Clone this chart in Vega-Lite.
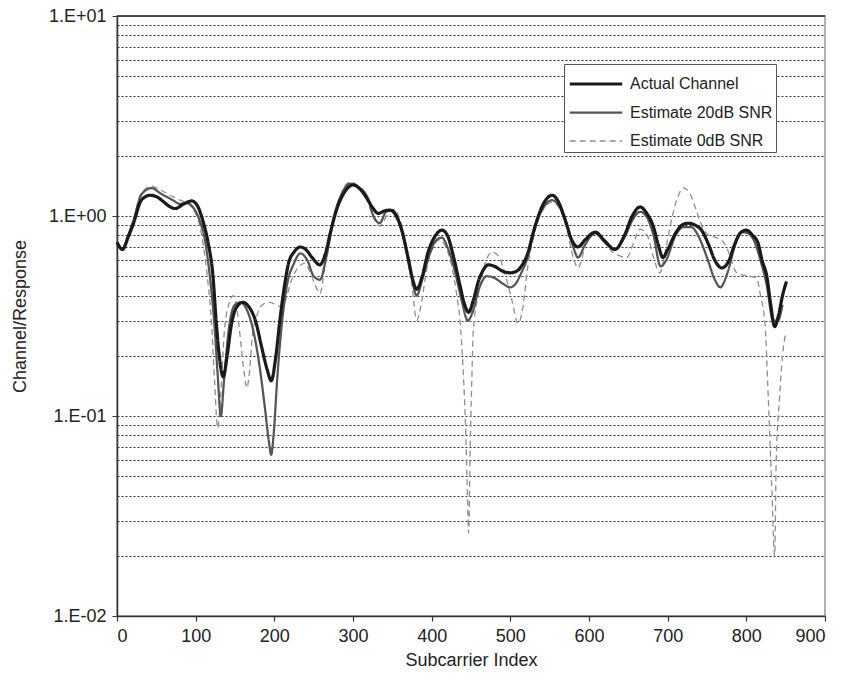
{
  "$schema": "https://vega.github.io/schema/vega-lite/v6.json",
  "autosize": {"type": "none"},
  "padding": {"left": 117, "top": 16, "right": 17, "bottom": 66},
  "width": 708,
  "height": 600,
  "background": "white",
  "config": {
    "view": {"stroke": "#999", "strokeWidth": 1.5},
    "font": "Liberation Sans"
  },
  "datasets": {
    "actual": [
      [0,0.74],[7,0.68],[14,0.78],[21,0.92],[31,1.2],[42,1.27],[50,1.25],[59,1.18],[66,1.12],[74,1.09],[85,1.15],[95,1.19],[103,1.11],[110,0.92],[116,0.73],[122,0.5],[126,0.3],[130,0.2],[135,0.157],[140,0.2],[145,0.28],[152,0.35],[160,0.37],[168,0.35],[176,0.3],[184,0.22],[191,0.17],[196,0.15],[202,0.2],[207,0.3],[213,0.45],[218,0.58],[225,0.66],[233,0.7],[240,0.68],[248,0.62],[258,0.57],[265,0.65],[272,0.85],[280,1.1],[290,1.33],[300,1.43],[310,1.35],[318,1.22],[325,1.1],[332,1.03],[340,1.06],[347,1.07],[355,1.0],[362,0.85],[370,0.62],[376,0.48],[381,0.43],[388,0.5],[395,0.65],[405,0.8],[413,0.85],[420,0.8],[428,0.62],[436,0.45],[442,0.36],[447,0.33],[453,0.38],[460,0.48],[466,0.54],[472,0.57],[480,0.56],[490,0.53],[500,0.52],[508,0.53],[514,0.56],[522,0.65],[530,0.85],[542,1.15],[553,1.27],[560,1.2],[570,0.95],[578,0.76],[586,0.7],[595,0.76],[608,0.83],[620,0.75],[633,0.68],[645,0.8],[655,1.0],[665,1.11],[672,1.05],[682,0.88],[688,0.72],[694,0.62],[700,0.68],[710,0.82],[718,0.9],[726,0.92],[735,0.9],[743,0.85],[752,0.72],[760,0.6],[769,0.55],[778,0.6],[785,0.72],[792,0.82],[800,0.85],[808,0.8],[815,0.73],[820,0.6],[826,0.5],[831,0.36],[836,0.28],[841,0.32],[846,0.4],[851,0.47]
    ],
    "snr20": [
      [0,0.74],[7,0.68],[14,0.8],[21,0.95],[31,1.28],[44,1.38],[55,1.3],[71,1.2],[80,1.15],[89,1.16],[97,1.1],[105,0.95],[112,0.75],[118,0.5],[124,0.28],[128,0.16],[132,0.1],[136,0.15],[142,0.27],[150,0.36],[157,0.37],[165,0.34],[173,0.27],[181,0.18],[188,0.11],[193,0.075],[196,0.064],[199,0.08],[204,0.16],[210,0.3],[216,0.45],[225,0.58],[233,0.65],[242,0.6],[250,0.5],[258,0.48],[266,0.62],[276,1.0],[286,1.3],[296,1.45],[306,1.4],[318,1.25],[326,1.0],[334,0.92],[342,1.05],[350,1.07],[358,0.95],[366,0.72],[374,0.5],[381,0.4],[388,0.48],[396,0.62],[405,0.75],[413,0.78],[420,0.7],[430,0.52],[438,0.38],[446,0.3],[452,0.33],[460,0.43],[470,0.5],[480,0.49],[490,0.46],[500,0.44],[507,0.46],[514,0.52],[522,0.62],[532,0.9],[542,1.1],[553,1.2],[562,1.12],[572,0.9],[580,0.7],[586,0.62],[595,0.72],[608,0.82],[620,0.74],[633,0.68],[645,0.78],[655,0.95],[665,1.05],[674,0.98],[682,0.8],[691,0.56],[698,0.6],[710,0.8],[720,0.88],[730,0.88],[740,0.78],[750,0.62],[760,0.48],[767,0.44],[776,0.52],[786,0.72],[795,0.83],[802,0.82],[810,0.75],[818,0.6],[826,0.45],[834,0.3],[840,0.3],[846,0.36]
    ],
    "snr0": [
      [0,0.74],[7,0.69],[14,0.8],[21,0.97],[31,1.3],[44,1.41],[55,1.35],[71,1.25],[80,1.2],[89,1.16],[97,1.08],[105,0.9],[110,0.7],[116,0.45],[120,0.3],[124,0.15],[128,0.087],[132,0.13],[136,0.25],[142,0.36],[148,0.4],[153,0.33],[158,0.22],[162,0.16],[165,0.138],[168,0.16],[172,0.25],[178,0.32],[185,0.36],[194,0.37],[202,0.36],[210,0.35],[216,0.4],[222,0.48],[230,0.55],[238,0.58],[246,0.52],[252,0.45],[258,0.41],[264,0.55],[272,0.85],[282,1.2],[290,1.42],[297,1.48],[306,1.42],[318,1.2],[326,0.98],[334,0.89],[344,1.02],[352,1.08],[360,0.95],[368,0.7],[375,0.45],[381,0.3],[386,0.35],[394,0.55],[402,0.7],[410,0.76],[418,0.7],[426,0.55],[432,0.4],[436,0.3],[440,0.17],[443,0.09],[445,0.048],[447,0.026],[449,0.07],[451,0.15],[453,0.27],[460,0.42],[468,0.58],[477,0.66],[486,0.62],[494,0.5],[502,0.38],[510,0.29],[516,0.35],[522,0.55],[530,0.8],[540,1.05],[553,1.17],[562,1.1],[572,0.85],[580,0.62],[586,0.55],[596,0.72],[608,0.82],[618,0.75],[630,0.66],[640,0.63],[648,0.62],[656,0.72],[665,0.86],[674,0.8],[682,0.62],[690,0.52],[698,0.7],[706,1.0],[713,1.25],[720,1.38],[728,1.3],[736,1.08],[744,0.88],[752,0.8],[762,0.78],[772,0.73],[780,0.62],[786,0.53],[792,0.51],[805,0.5],[813,0.49],[818,0.4],[824,0.28],[827,0.15],[832,0.048],[836,0.02],[838,0.06],[842,0.12],[846,0.2],[850,0.26]
    ]
  },
  "layer": [
    {
      "encoding": {
        "x": {
          "field": "x", "type": "quantitative",
          "scale": {"domain": [0, 900], "nice": false, "zero": false},
          "axis": {
            "values": [0,100,200,300,400,500,600,700,800,900],
            "grid": false, "domainColor": "#333", "domainWidth": 1.5,
            "tickColor": "#333", "tickSize": 5, "tickWidth": 1.2,
            "labelFontSize": 18, "labelColor": "#222", "labelPadding": 6,
            "title": "Subcarrier Index", "titleFontSize": 18, "titleFontWeight": "normal",
            "titleColor": "#222", "titlePadding": 6
          }
        },
        "y": {
          "field": "y", "type": "quantitative",
          "scale": {"type": "log", "domain": [0.01, 10], "nice": false},
          "axis": {
            "values": [0.01,0.02,0.03,0.04,0.05,0.06,0.07,0.08,0.09,0.1,0.2,0.3,0.4,0.5,0.6,0.7,0.8,0.9,1,2,3,4,5,6,7,8,9,10],
            "grid": true, "gridDash": [2, 2], "gridColor": "#333", "gridWidth": 1.1,
            "domainColor": "#333", "domainWidth": 1.5,
            "tickColor": "#333", "tickSize": 5,
            "tickOpacity": {"condition": {"test": "abs(log(datum.value)/LN10 - round(log(datum.value)/LN10)) < 0.001", "value": 1}, "value": 0},
            "labelExpr": "abs(log(datum.value)/LN10 - round(log(datum.value)/LN10)) < 0.001 ? ((round(log(datum.value)/LN10) < 0 ? '1.E-0' : '1.E+0') + abs(round(log(datum.value)/LN10))) : ''",
            "labelFontSize": 18, "labelColor": "#222", "labelPadding": 6,
            "title": "Channel/Response", "titleFontSize": 18, "titleFontWeight": "normal",
            "titleColor": "#222", "titlePadding": 19
          }
        },
        "color": {
          "field": "series", "type": "nominal",
          "scale": {"domain": ["Actual Channel", "Estimate 20dB SNR", "Estimate 0dB SNR"], "range": ["#1a1a1a", "#555555", "#8e8e8e"]},
          "legend": {
            "orient": "none", "legendX": 447, "legendY": 48, "title": null,
            "symbolType": "M-1.75,0H1.75", "symbolSize": 900, "symbolOffset": 12,
            "labelFontSize": 16, "labelColor": "#222", "labelOffset": 17,
            "strokeColor": "#555", "fillColor": "white", "padding": 3, "rowPadding": 4,
            "labelLimit": 220
          }
        },
        "strokeDash": {
          "field": "series", "type": "nominal",
          "scale": {"domain": ["Actual Channel", "Estimate 20dB SNR", "Estimate 0dB SNR"], "range": [[1, 0], [1, 0], [6, 4]]},
          "legend": {
            "orient": "none", "legendX": 447, "legendY": 48, "title": null,
            "symbolType": "M-1.75,0H1.75", "symbolSize": 900, "symbolOffset": 12,
            "labelFontSize": 16, "labelColor": "#222", "labelOffset": 17,
            "strokeColor": "#555", "fillColor": "white", "padding": 3, "rowPadding": 4,
            "labelLimit": 220
          }
        },
        "strokeWidth": {
          "field": "series", "type": "nominal",
          "scale": {"domain": ["Actual Channel", "Estimate 20dB SNR", "Estimate 0dB SNR"], "range": [3.2, 1.3, 2.4]},
          "legend": {
            "orient": "none", "legendX": 447, "legendY": 48, "title": null,
            "symbolType": "M-1.75,0H1.75", "symbolSize": 900, "symbolOffset": 12,
            "labelFontSize": 16, "labelColor": "#222", "labelOffset": 17,
            "strokeColor": "#555", "fillColor": "white", "padding": 3, "rowPadding": 4,
            "labelLimit": 220
          }
        }
      },
      "layer": [
        {
          "data": {"name": "snr0"},
          "transform": [{"calculate": "datum[0]", "as": "x"}, {"calculate": "datum[1]", "as": "y"}, {"calculate": "'Estimate 0dB SNR'", "as": "series"}],
          "mark": {"type": "line", "interpolate": "monotone"}
        },
        {
          "data": {"name": "snr20"},
          "transform": [{"calculate": "datum[0]", "as": "x"}, {"calculate": "datum[1]", "as": "y"}, {"calculate": "'Estimate 20dB SNR'", "as": "series"}],
          "mark": {"type": "line", "interpolate": "monotone"}
        },
        {
          "data": {"name": "actual"},
          "transform": [{"calculate": "datum[0]", "as": "x"}, {"calculate": "datum[1]", "as": "y"}, {"calculate": "'Actual Channel'", "as": "series"}],
          "mark": {"type": "line", "interpolate": "monotone"}
        }
      ]
    },
    {
      "data": {"values": [{"top": 10}]},
      "mark": {"type": "rule", "color": "#333", "strokeWidth": 1.5},
      "encoding": {"y": {"field": "top", "type": "quantitative"}}
    }
  ]
}
